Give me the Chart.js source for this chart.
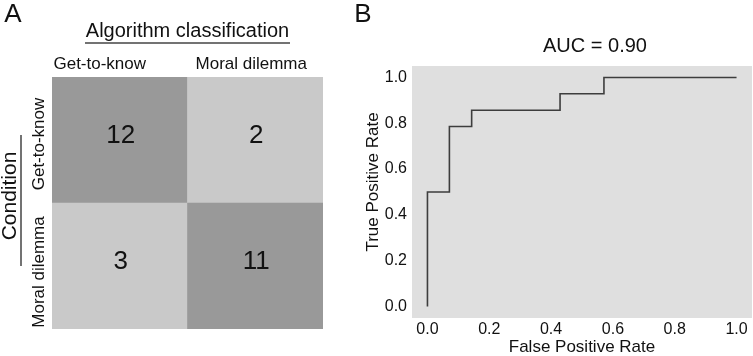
<!DOCTYPE html>
<html>
<head>
<meta charset="utf-8">
<script src="https://cdn.jsdelivr.net/npm/chart.js@4/dist/chart.umd.min.js"></script>
<style>
  html, body { margin: 0; padding: 0; background: #fff; }
  body { width: 753px; height: 356px; position: relative; overflow: hidden; }
  .panel { position: absolute; top: 0; }
  #panel-a { left: 0; width: 360px; height: 356px; }
  #panel-b { left: 340px; width: 413px; height: 356px; }
</style>
</head>
<body>
<div class="panel" id="panel-a"><canvas id="chart-confusion"></canvas></div>
<div class="panel" id="panel-b"><canvas id="chart-roc"></canvas></div>

<script>
// Panel A: confusion matrix
const colLabels = ["Get-to-know", "Moral dilemma"];
const rowLabels = ["Get-to-know", "Moral dilemma"];
const countsGetToKnow = [12, 2];
const countsMoralDilemma = [3, 11];

// Panel B: ROC curve
const fpr = [0, 0, 0.071, 0.071, 0.143, 0.143, 0.429, 0.429, 0.571, 0.571, 1];
const tpr = [0, 0.5, 0.5, 0.786, 0.786, 0.857, 0.857, 0.929, 0.929, 1, 1];
const rocTicks = [0, 0.2, 0.4, 0.6, 0.8, 1.0];
const aucLabel = "AUC = 0.90";

const FONT = "'Liberation Sans', Arial, Helvetica, sans-serif";
const INK = "#111";
Chart.defaults.font.family = FONT;
Chart.defaults.color = INK;

document.addEventListener("DOMContentLoaded", () => {
  initializeConfusionMatrix();
  initializeRocCurve();
});

function cellColor(count) {
  return count >= 7 ? "#999999" : "#c9c9c9";
}

// Heatmap drawn as stacked full-width bars, one unit tall per row
function initializeConfusionMatrix() {
  const el = document.getElementById("chart-confusion");

  const labelsPlugin = {
    id: "confusionLabels",
    afterDatasetsDraw(chart) {
      const ctx = chart.ctx;
      const x = chart.scales.x;
      const area = chart.chartArea;
      ctx.save();
      ctx.fillStyle = INK;
      ctx.textAlign = "center";
      ctx.textBaseline = "middle";

      // cell counts
      ctx.font = "26px " + FONT;
      chart.data.datasets.forEach((ds, di) => {
        chart.getDatasetMeta(di).data.forEach((bar, i) => {
          ctx.fillText(String(ds.counts[i]), bar.x + 1, (bar.y + bar.base) / 2 - 4);
        });
      });

      // column labels
      ctx.font = "17px " + FONT;
      const colShift = [-20, -4];
      colLabels.forEach((label, i) => {
        ctx.fillText(label, x.getPixelForValue(i) + colShift[i], 64);
      });

      // header with underline
      ctx.font = "20px " + FONT;
      const cx = (area.left + area.right) / 2;
      ctx.fillText("Algorithm classification", cx, 31);
      ctx.strokeStyle = "#444";
      ctx.lineWidth = 1.5;
      ctx.beginPath();
      ctx.moveTo(85, 43);
      ctx.lineTo(290, 43);
      ctx.stroke();

      // row labels (rotated)
      const y = chart.scales.y;
      const rowCenters = [y.getPixelForValue(1.5) + 4, y.getPixelForValue(0.5) + 6];
      ctx.font = "17px " + FONT;
      rowLabels.forEach((label, i) => {
        ctx.save();
        ctx.translate(39, rowCenters[i]);
        ctx.rotate(-Math.PI / 2);
        ctx.fillText(label, 0, 0);
        ctx.restore();
      });

      // "Condition" with its line
      ctx.save();
      ctx.font = "21px " + FONT;
      ctx.translate(10, 196);
      ctx.rotate(-Math.PI / 2);
      ctx.fillText("Condition", 0, 0);
      ctx.restore();
      ctx.beginPath();
      ctx.moveTo(21, 135);
      ctx.lineTo(21, 266);
      ctx.stroke();

      // panel letter
      ctx.font = "26px " + FONT;
      ctx.fillText("A", 13, 15);
      ctx.restore();
    },
  };

  new Chart(el, {
    type: "bar",
    data: {
      labels: colLabels,
      datasets: [
        {
          label: rowLabels[1],
          data: countsMoralDilemma.map(() => 1),
          counts: countsMoralDilemma,
          backgroundColor: countsMoralDilemma.map(cellColor),
          borderWidth: 0,
          categoryPercentage: 1,
          barPercentage: 1,
        },
        {
          label: rowLabels[0],
          data: countsGetToKnow.map(() => 1),
          counts: countsGetToKnow,
          backgroundColor: countsGetToKnow.map(cellColor),
          borderWidth: 0,
          categoryPercentage: 1,
          barPercentage: 1,
        },
      ],
    },
    options: {
      responsive: true,
      maintainAspectRatio: false,
      animation: false,
      layout: { padding: { left: 52, right: 37, top: 77, bottom: 27 } },
      plugins: { legend: { display: false }, tooltip: { enabled: false } },
      scales: {
        x: { display: false, stacked: true },
        y: { display: false, stacked: true, min: 0, max: 2 },
      },
    },
    plugins: [labelsPlugin],
  });
}

function initializeRocCurve() {
  const el = document.getElementById("chart-roc");

  const backdropPlugin = {
    id: "rocBackdrop",
    beforeDatasetsDraw(chart) {
      const { ctx, chartArea } = chart;
      ctx.save();
      ctx.fillStyle = "#dfdfdf";
      ctx.fillRect(chartArea.left, chartArea.top, chartArea.right - chartArea.left, chartArea.bottom - chartArea.top);
      ctx.restore();
    },
    afterDraw(chart) {
      const ctx = chart.ctx;
      ctx.save();
      ctx.fillStyle = INK;
      ctx.textAlign = "center";
      ctx.textBaseline = "middle";
      ctx.font = "20px " + FONT;
      ctx.fillText(aucLabel, 255, 46);
      ctx.font = "26px " + FONT;
      ctx.fillText("B", 23, 15);

      // y axis title, sitting a little above the plot centre as in the source
      ctx.save();
      ctx.font = "17px " + FONT;
      ctx.translate(33, 182);
      ctx.rotate(-Math.PI / 2);
      ctx.fillText("True Positive Rate", 0, 0);
      ctx.restore();
      ctx.restore();
    },
  };

  const setTicks = (axis) => {
    axis.ticks = rocTicks.map((v) => ({ value: v }));
  };

  new Chart(el, {
    type: "scatter",
    data: {
      datasets: [
        {
          data: fpr.map((v, i) => ({ x: v, y: tpr[i] })),
          showLine: true,
          borderColor: "#3d3d3d",
          borderWidth: 1.6,
          pointRadius: 0,
          fill: false,
        },
      ],
    },
    options: {
      responsive: true,
      maintainAspectRatio: false,
      animation: false,
      layout: { padding: { top: 66, right: 1 } },
      plugins: { legend: { display: false }, tooltip: { enabled: false } },
      scales: {
        x: {
          type: "linear",
          min: -0.05,
          max: 1.05,
          afterBuildTicks: setTicks,
          afterFit: (axis) => { axis.height = 38; },
          grid: { display: false, drawTicks: false },
          border: { display: false },
          ticks: { font: { size: 16 }, padding: 2, callback: (v) => v.toFixed(1) },
          title: {
            display: true,
            text: "False Positive Rate",
            font: { size: 17, lineHeight: 1 },
            padding: { top: 0, bottom: 0 },
          },
        },
        y: {
          type: "linear",
          min: -0.05,
          max: 1.05,
          afterBuildTicks: setTicks,
          afterFit: (axis) => { axis.width = 72; },
          grid: { display: false, drawTicks: false },
          border: { display: false },
          ticks: { font: { size: 16 }, padding: 5, callback: (v) => v.toFixed(1) },
        },
      },
    },
    plugins: [backdropPlugin],
  });
}
</script>
</body>
</html>
